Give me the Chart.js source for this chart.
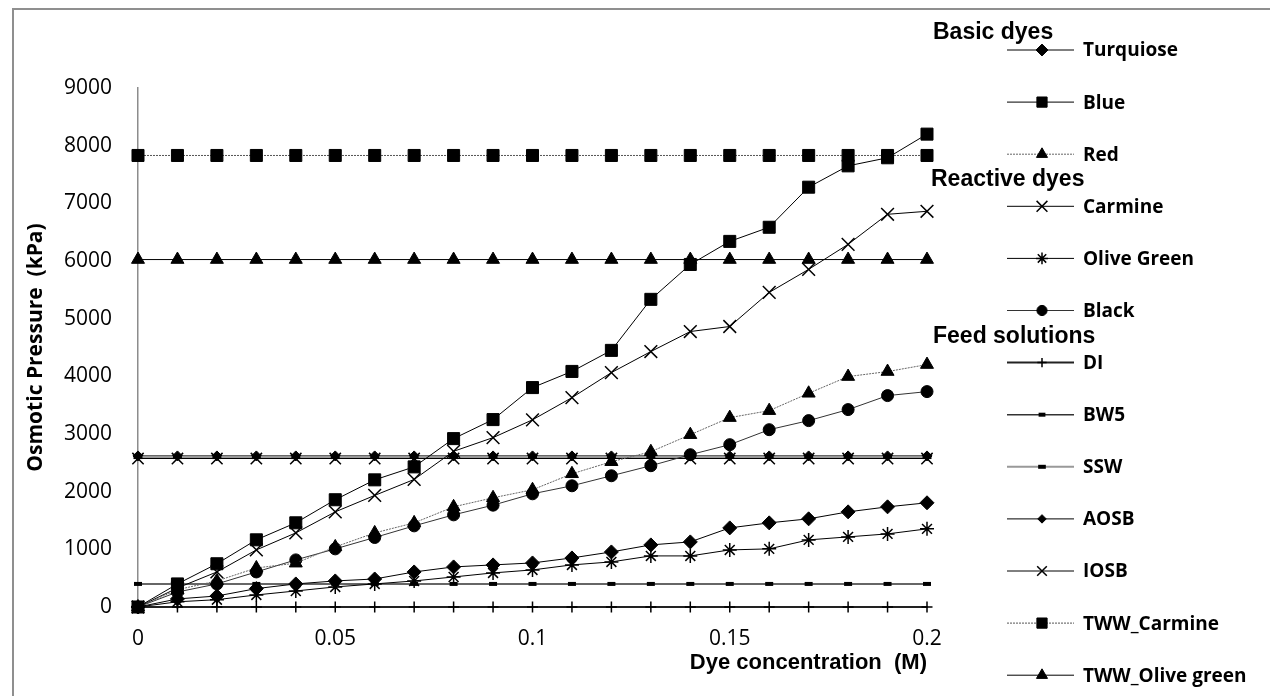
<!DOCTYPE html>
<html lang="en">
  <head>
    <meta charset="UTF-8" />
    <title>Osmotic Pressure vs Dye concentration</title>
    <script src="https://cdn.jsdelivr.net/npm/chart.js@4.4.1/dist/chart.umd.min.js"></script>
    <style>
      html, body { margin: 0; padding: 0; background: #fff; overflow: hidden; }
      #wrap { position: relative; width: 1270px; height: 696px; }
      #frame {
        position: absolute; left: 12px; top: 8px; width: 1300px; height: 740px;
        border: 2px solid #8f8f8f; pointer-events: none;
      }
    </style>
  </head>
  <body>
    <div id="wrap">
      <canvas id="osmChart" width="1270" height="696"></canvas>
      <div id="frame"></div>
    </div>

    <script>
      // dye concentration (M)
      const conc = [0, 0.01, 0.02, 0.03, 0.04, 0.05, 0.06, 0.07, 0.08, 0.09, 0.1,
                    0.11, 0.12, 0.13, 0.14, 0.15, 0.16, 0.17, 0.18, 0.19, 0.2];

      // osmotic pressure (kPa), basic dyes
      const turquiose = [0, 140, 191, 319, 400, 452, 486, 608, 695, 730, 764, 851, 955, 1077, 1129, 1372, 1459, 1529, 1650, 1737, 1807];
      const blue = [0, 400, 750, 1165, 1460, 1860, 2205, 2430, 2920, 3250, 3805, 4085, 4450, 5335, 5940, 6340, 6585, 7280, 7650, 7790, 8200];
      const red = [0, 300, 452, 677, 760, 1042, 1285, 1459, 1737, 1894, 2033, 2310, 2519, 2693, 2988, 3284, 3405, 3706, 3996, 4083, 4204];
      // reactive dyes
      const carmine = [0, 330, 608, 990, 1285, 1650, 1935, 2212, 2700, 2937, 3246, 3630, 4065, 4430, 4777, 4864, 5455, 5855, 6289, 6810, 6862];
      const oliveGreen = [0, 90, 127, 209, 278, 348, 400, 452, 521, 591, 643, 730, 782, 886, 886, 990, 1008, 1164, 1216, 1268, 1355];
      const black = [0, 260, 400, 608, 817, 1008, 1205, 1407, 1598, 1766, 1963, 2102, 2276, 2450, 2641, 2815, 3075, 3232, 3423, 3666, 3735];
      // feed solutions
      const di = [0, 0, 0, 0, 0, 0, 0, 0, 0, 0, 0, 0, 0, 0, 0, 0, 0, 0, 0, 0, 0];
      const bw5 = [400, 400, 400, 400, 400, 400, 400, 400, 400, 400, 400, 400, 400, 400, 400, 400, 400, 400, 400, 400, 400];
      const ssw = [2600, 2600, 2600, 2600, 2600, 2600, 2600, 2600, 2600, 2600, 2600, 2600, 2600, 2600, 2600, 2600, 2600, 2600, 2600, 2600, 2600];
      const aosb = [2620, 2620, 2620, 2620, 2620, 2620, 2620, 2620, 2620, 2620, 2620, 2620, 2620, 2620, 2620, 2620, 2620, 2620, 2620, 2620, 2620];
      const iosb = [2575, 2575, 2575, 2575, 2575, 2575, 2575, 2575, 2575, 2575, 2575, 2575, 2575, 2575, 2575, 2575, 2575, 2575, 2575, 2575, 2575];
      const twwCarmine = [7830, 7830, 7830, 7830, 7830, 7830, 7830, 7830, 7830, 7830, 7830, 7830, 7830, 7830, 7830, 7830, 7830, 7830, 7830, 7830, 7830];
      const twwOliveGreen = [6025, 6025, 6025, 6025, 6025, 6025, 6025, 6025, 6025, 6025, 6025, 6025, 6025, 6025, 6025, 6025, 6025, 6025, 6025, 6025, 6025];

      const yTicks = [0, 1000, 2000, 3000, 4000, 5000, 6000, 7000, 8000, 9000];
      const xTicks = [0, 0.05, 0.1, 0.15, 0.2];

      function series(label, values, style) {
        return Object.assign({
          label: label,
          data: values.map((v, i) => ({ x: conc[i], y: v })),
          borderColor: "#000",
          backgroundColor: "#000",
          pointBackgroundColor: "#000",
          pointBorderColor: "#000",
          borderWidth: 1,
          pointBorderWidth: 1,
          pointRadius: 6,
          tension: 0,
          clip: false,
        }, style);
      }

      const datasets = [
        series("Turquiose", turquiose, { pointStyle: "rectRot", pointRadius: 7 }),
        series("Blue", blue, { pointStyle: "rect", pointRadius: 8.5 }),
        series("Red", red, { pointStyle: "triangle", pointRadius: 7.5, borderColor: "#666", borderDash: [2, 1] }),
        series("Carmine", carmine, { pointStyle: "crossRot", pointRadius: 9, pointBorderWidth: 1.5 }),
        series("Olive Green", oliveGreen, { pointStyle: "star", pointRadius: 7, pointBorderWidth: 1.5 }),
        series("Black", black, { pointStyle: "circle", pointRadius: 6, borderColor: "#333" }),
        series("DI", di, { pointStyle: "cross", pointRadius: 5.5, pointBorderWidth: 1.5, borderWidth: 2, borderColor: "#222" }),
        series("BW5", bw5, { pointStyle: "line", pointRadius: 4, pointBorderWidth: 4, borderWidth: 1.5, borderColor: "#333" }),
        series("SSW", ssw, { pointStyle: "line", pointRadius: 4.5, pointBorderWidth: 4, borderWidth: 2, borderColor: "#999" }),
        series("AOSB", aosb, { pointStyle: "rectRot", pointRadius: 5 }),
        series("IOSB", iosb, { pointStyle: "crossRot", pointRadius: 8, pointBorderWidth: 1.5 }),
        series("TWW_Carmine", twwCarmine, { pointStyle: "rect", pointRadius: 8.5, borderColor: "#555", borderDash: [2, 1] }),
        series("TWW_Olive green", twwOliveGreen, { pointStyle: "triangle", pointRadius: 7.5 }),
      ];

      // legend on the right, grouped like the original
      const groupHeads = [
        { text: "Basic dyes", x: 933, y: 33 },
        { text: "Reactive dyes", x: 931, y: 180 },
        { text: "Feed solutions", x: 933, y: 337 },
      ];

      const groupedLegend = {
        id: "groupedLegend",
        afterDraw(chart) {
          const ctx = chart.ctx;
          ctx.save();
          ctx.fillStyle = "#000";
          ctx.textBaseline = "middle";
          ctx.textAlign = "left";
          ctx.font = "bold 23px 'Liberation Sans', Arial, sans-serif";
          groupHeads.forEach((g) => ctx.fillText(g.text, g.x, g.y));

          chart.data.datasets.forEach((ds, k) => {
            const y = 50 + 52.1 * k;
            ctx.beginPath();
            ctx.strokeStyle = ds.borderColor;
            ctx.lineWidth = Math.max(1, ds.borderWidth);
            ctx.setLineDash(ds.borderDash || []);
            ctx.moveTo(1007, y);
            ctx.lineTo(1074, y);
            ctx.stroke();
            ctx.setLineDash([]);

            ctx.fillStyle = "#000";
            ctx.strokeStyle = "#000";
            ctx.lineWidth = ds.pointBorderWidth;
            Chart.helpers.drawPoint(ctx, {
              pointStyle: ds.pointStyle,
              radius: ds.pointRadius * 0.85,
              rotation: 0,
              borderWidth: ds.pointBorderWidth,
            }, 1042, y);

            ctx.fillStyle = "#000";
            ctx.font = "bold 19px 'Open Sans', sans-serif";
            ctx.fillText(ds.label, 1083, y + 1);
          });

          // y axis title, centred on the plot height
          const area = chart.chartArea;
          ctx.translate(36, (area.top + area.bottom) / 2);
          ctx.rotate(-Math.PI / 2);
          ctx.textAlign = "center";
          ctx.font = "bold 21px 'Open Sans', sans-serif";
          ctx.fillText("Osmotic Pressure  (kPa)", 0, 0);
          ctx.restore();
        },
      };

      const ctx = document.getElementById("osmChart").getContext("2d");
      new Chart(ctx, {
        type: "line",
        data: { datasets: datasets },
        options: {
          responsive: false,
          animation: false,
          devicePixelRatio: 1,
          layout: { padding: { left: 0, top: 88, right: 343, bottom: 0 } },
          plugins: { legend: { display: false }, tooltip: { enabled: false } },
          scales: {
            x: {
              type: "linear",
              min: 0,
              max: 0.2,
              afterFit: (s) => { s.height = 89; },
              afterBuildTicks: (s) => { s.ticks = xTicks.map((v) => ({ value: v })); },
              grid: { display: false, drawTicks: false },
              border: { display: true, color: "#8c8c8c", width: 1.5 },
              ticks: {
                padding: 19,
                color: "#000",
                font: { family: "'Open Sans', sans-serif", size: 21 },
                callback: (v) => String(+v.toFixed(2)),
              },
              title: {
                display: true,
                text: "Dye concentration  (M)",
                align: "end",
                color: "#000",
                padding: { top: 0, bottom: 20 },
                font: { family: "'Liberation Sans', Arial, sans-serif", size: 22, weight: "bold" },
              },
            },
            y: {
              min: 0,
              max: 9000,
              afterFit: (s) => { s.width = 138; },
              afterBuildTicks: (s) => { s.ticks = yTicks.map((v) => ({ value: v })); },
              grid: { display: false, drawTicks: false },
              border: { display: true, color: "#8c8c8c", width: 1.5 },
              ticks: {
                padding: 26,
                color: "#000",
                font: { family: "'Open Sans', sans-serif", size: 21 },
                callback: (v) => String(v),
              },
            },
          },
        },
        plugins: [groupedLegend],
      });
    </script>
  </body>
</html>
